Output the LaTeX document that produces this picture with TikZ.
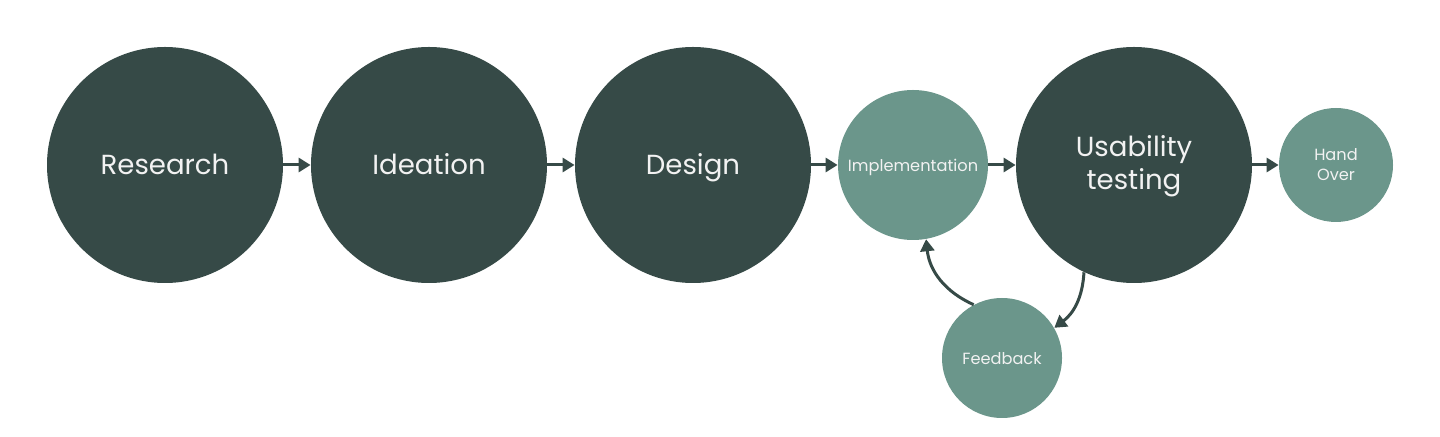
\documentclass[tikz,border=0pt]{standalone}
\usepackage{fontspec}
\setmainfont{Poppins}
\usepackage{xcolor}
\usetikzlibrary{arrows.meta,positioning}

\definecolor{stagedark}{HTML}{364A47}
\definecolor{stagelight}{HTML}{6B968B}
\definecolor{stagetext}{HTML}{F2F2F2}

\tikzset{
  bigstage/.style={circle,fill=stagedark,text=stagetext,minimum size=118pt,inner sep=0pt,align=center,font=\fontsize{13.8}{16.5}\selectfont},
  smallstage/.style={circle,fill=stagelight,text=stagetext,inner sep=0pt,align=center,font=\fontsize{8.1}{10}\selectfont},
  bigline/.style={text height=10pt,text depth=0.3pt},
  oneline/.style={text height=1.45ex,text depth=0.35ex},
  flow/.style={-{Triangle[length=6pt,width=7pt]},line width=1.5pt,draw=stagedark},
}

\begin{document}
\begin{tikzpicture}[x=0.5pt,y=-0.5pt]
  \useasboundingbox (0,0) rectangle (1440,437);
  \node[bigstage,bigline] (research) at (165,165) {Research};
  \node[bigstage,bigline] (ideation) at (429,165) {Ideation};
  \node[bigstage,bigline] (design) at (693,165) {Design};
  \node[smallstage,oneline,minimum size=75pt] (impl) at (913,165) {Implementation};
  \node[bigstage] (usab) at (1134,165) {\rule{0pt}{11.5pt}Usability\\testing};
  \node[smallstage,minimum size=57pt] (handover) at (1336,165) {Hand\\Over};
  \node[smallstage,oneline,minimum size=60pt] (feedback) at (1002,358) {Feedback};

  \draw[flow] (research) -- (ideation);
  \draw[flow] (ideation) -- (design);
  \draw[flow] (design) -- (impl);
  \draw[flow] (impl) -- (usab);
  \draw[flow] (usab) -- (handover);
  % loop back
  \draw[flow] (usab.245) to[bend left=25] (feedback.30);
  \draw[flow] (feedback.118) to[bend left=30] (impl.280);
\end{tikzpicture}
\end{document}
